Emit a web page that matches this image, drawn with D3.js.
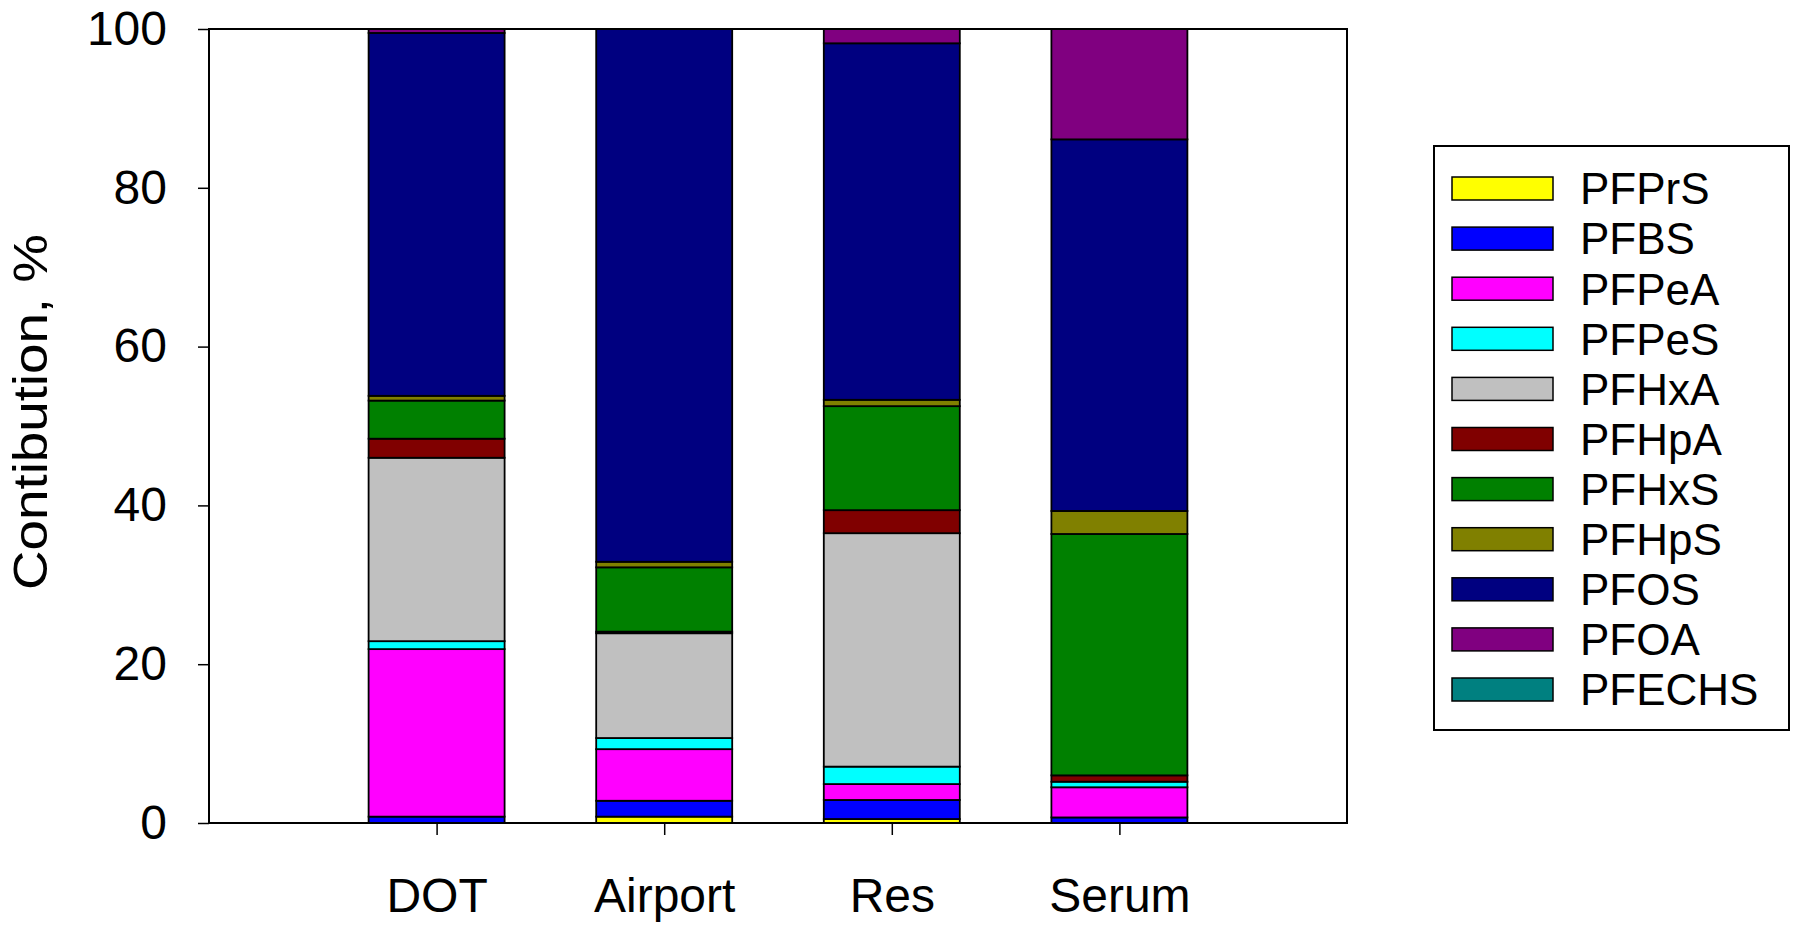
<!DOCTYPE html>
<html>
<head>
<meta charset="utf-8">
<script src="https://cdn.jsdelivr.net/npm/d3@7"></script>
<style>
body{margin:0;background:#fff;}
text{font-family:Arial,"Liberation Sans",sans-serif;fill:#000;}
</style>
</head>
<body>
<script>
// samples along the x axis
var samples = ['DOT','Airport','Res','Serum'];
// compounds, bottom to top of each stack
var compounds = ['PFPrS','PFBS','PFPeA','PFPeS','PFHxA','PFHpA','PFHxS','PFHpS','PFOS','PFOA','PFECHS'];
var colors = ['#ffff00','#0000ff','#ff00ff','#00ffff','#c0c0c0','#800000','#008000','#808000','#000080','#800080','#008080'];

// contribution in %, one value per sample (DOT, Airport, Res, Serum)
var PFPrS  = [0,    0.8,  0.5,  0];
var PFBS   = [0.8,  2.0,  2.4,  0.7];
var PFPeA  = [21.1, 6.5,  2.0,  3.8];
var PFPeS  = [1.0,  1.4,  2.2,  0.7];
var PFHxA  = [23.1, 13.2, 29.4, 0];
var PFHpA  = [2.4,  0.2,  2.9,  0.8];
var PFHxS  = [4.8,  8.1,  13.1, 30.4];
var PFHpS  = [0.6,  0.7,  0.8,  2.9];
var PFOS   = [45.7, 67.1, 44.9, 46.8];
var PFOA   = [0.5,  0,    1.8,  13.9];
var PFECHS = [0,    0,    0,    0];

var yTicks = [0,20,40,60,80,100];

var values = {PFPrS:PFPrS, PFBS:PFBS, PFPeA:PFPeA, PFPeS:PFPeS, PFHxA:PFHxA, PFHpA:PFHpA,
              PFHxS:PFHxS, PFHpS:PFHpS, PFOS:PFOS, PFOA:PFOA, PFECHS:PFECHS};

// one row per sample for d3.stack
var table = samples.map(function(s,i){
    var row = {sample:s};
    compounds.forEach(function(c){ row[c] = values[c][i]; });
    return row;
});

var width = 1800, height = 929;
var plot = {left:209, right:1347, top:29, bottom:823};
var barWidth = 136;

var svg = d3.select("body").append("svg")
    .attr("width",width)
    .attr("height",height);

var x = d3.scalePoint()
    .domain(samples)
    .range([plot.left,plot.right])
    .padding(1);

var y = d3.scaleLinear()
    .domain([0,100])
    .range([plot.bottom,plot.top]);

var color = d3.scaleOrdinal().domain(compounds).range(colors);

var stack = d3.stack().keys(compounds);
var series = stack(table);

// bars
svg.append("g").selectAll("g")
    .data(series)
    .enter().append("g")
    .attr("fill",function(d){ return color(d.key); })
    .selectAll("rect")
    .data(function(d){ return d.filter(function(p){ return p[1]-p[0] > 0; }); })
    .enter().append("rect")
    .attr("x",function(d){ return x(d.data.sample)-barWidth/2; })
    .attr("y",function(d){ return y(d[1]); })
    .attr("width",barWidth)
    .attr("height",function(d){ return y(d[0])-y(d[1]); })
    .attr("stroke","#000")
    .attr("stroke-width",1.8);

// frame around plot
svg.append("rect")
    .attr("x",plot.left)
    .attr("y",plot.top)
    .attr("width",plot.right-plot.left)
    .attr("height",plot.bottom-plot.top)
    .attr("fill","none")
    .attr("stroke","#000")
    .attr("stroke-width",2);

// y axis
var yAxis = d3.axisLeft(y).tickValues(yTicks).tickSize(11).tickPadding(31);
var gy = svg.append("g")
    .attr("transform","translate("+plot.left+",0)")
    .call(yAxis);
gy.select(".domain").remove();
gy.selectAll("line").attr("stroke","#000").attr("stroke-width",1.5);
gy.selectAll("text").style("font-size","48px").attr("font-family",null);

// x axis
var xAxis = d3.axisBottom(x).tickSize(12).tickPadding(43);
var gx = svg.append("g")
    .attr("transform","translate(0,"+plot.bottom+")")
    .call(xAxis);
gx.select(".domain").remove();
gx.selectAll("line").attr("stroke","#000").attr("stroke-width",1.5);
gx.selectAll("text").style("font-size","48px").attr("font-family",null);

// y title (stretched a little along its length, like the original)
svg.append("text")
    .attr("transform","translate(47,412) rotate(-90) scale(1.14,1)")
    .attr("text-anchor","middle")
    .style("font-size","48px")
    .text("Contibution, %");

// legend
var legend = svg.append("g");
legend.append("rect")
    .attr("x",1434)
    .attr("y",146)
    .attr("width",355)
    .attr("height",584)
    .attr("fill","#fff")
    .attr("stroke","#000")
    .attr("stroke-width",2);

var item = legend.selectAll(".item")
    .data(compounds)
    .enter().append("g")
    .attr("class","item")
    .attr("transform",function(d,i){ return "translate(0,"+(188.5+i*50.1)+")"; });

item.append("rect")
    .attr("x",1452)
    .attr("y",-11.5)
    .attr("width",101)
    .attr("height",23)
    .attr("fill",function(d){ return color(d); })
    .attr("stroke","#000")
    .attr("stroke-width",1.5);

item.append("text")
    .attr("x",1580)
    .attr("dy","0.36em")
    .style("font-size","44px")
    .text(function(d){ return d; });
</script>
</body>
</html>
